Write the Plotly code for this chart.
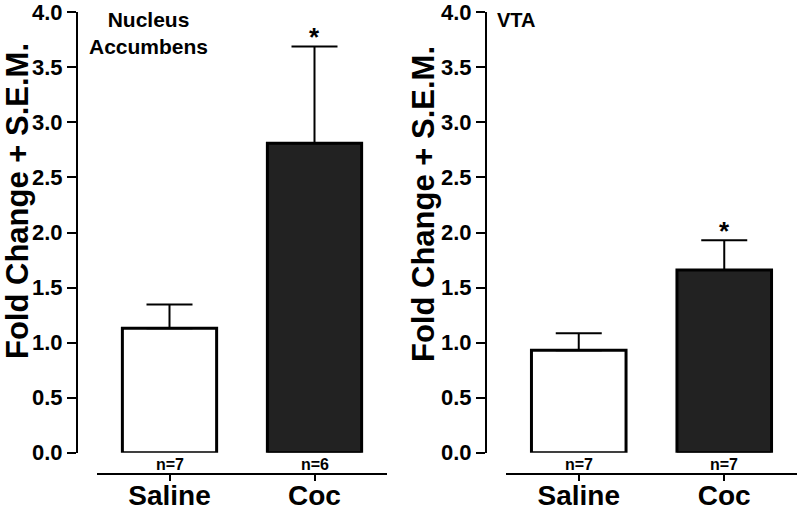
import plotly.graph_objects as go

categories = ["Saline", "Coc"]
nac_mean = [1.13, 2.81]
nac_sem = [0.215, 0.88]
nac_n = ["n=7", "n=6"]
vta_mean = [0.93, 1.66]
vta_sem = [0.155, 0.27]
vta_n = ["n=7", "n=7"]
bar_colors = ["#ffffff", "#222222"]
y_ticks = [0.0, 0.5, 1.0, 1.5, 2.0, 2.5, 3.0, 3.5, 4.0]
sig_marks = ["", "*"]
y_title = "Fold Change + S.E.M."

FONT = "Liberation Sans, Arial, Helvetica, sans-serif"
W, H = 800, 512

def px(x):
    return x / W

def py(y):
    return (H - y) / H

fig = go.Figure()

panels = [
    dict(mean=nac_mean, sem=nac_sem, n=nac_n, xa="x", ya="y"),
    dict(mean=vta_mean, sem=vta_sem, n=vta_n, xa="x2", ya="y2"),
]

for p in panels:
    fig.add_trace(go.Bar(
        x=categories, y=p["mean"], width=0.65,
        marker=dict(color=bar_colors, line=dict(color="black", width=3)),
        error_y=dict(type="data", array=p["sem"], arrayminus=[0, 0], symmetric=False,
                     color="black", thickness=2, width=23),
        xaxis=p["xa"], yaxis=p["ya"], showlegend=False, hoverinfo="skip",
    ))

ydom = [py(452.7), py(12.3)]
common_y = dict(range=[0, 4], tickvals=y_ticks, tickformat=".1f", showgrid=False, zeroline=False,
                showline=True, linewidth=2, linecolor="black", ticks="outside", ticklen=9,
                tickwidth=2, tickcolor="black", automargin=False,
                tickfont=dict(family=FONT, size=22, color="black", weight="bold"),
                domain=ydom, anchor="free")
common_x = dict(range=[-0.5, 1.5], showgrid=False, zeroline=False, showline=True, linewidth=2,
                linecolor="black", ticks="outside", ticklen=6, tickwidth=2, tickcolor="black",
                automargin=False, ticklabelstandoff=-10,
                tickfont=dict(family=FONT, size=28, color="black", weight="bold"),
                anchor="free", position=py(474))

fig.update_layout(
    width=W, height=H, margin=dict(l=0, r=0, t=0, b=0, pad=0, autoexpand=False),
    paper_bgcolor="white", plot_bgcolor="white", showlegend=False,
    bargap=0.35,
    xaxis=dict(domain=[px(97), px(387)], **common_x),
    yaxis=dict(position=px(77), **common_y),
    xaxis2=dict(domain=[px(506), px(797)], **common_x),
    yaxis2=dict(position=px(486), **common_y),
)

annotations = []
for p in panels:
    for cat, nt, m, s, sig in zip(categories, p["n"], p["mean"], p["sem"], sig_marks):
        annotations.append(dict(x=cat, y=py(464), xref=p["xa"], yref="paper", text=nt,
                                xanchor="center", yanchor="middle",
                                showarrow=False, font=dict(family=FONT, size=16, color="black", weight="bold")))
        if sig:
            annotations.append(dict(x=cat, y=m + s, xref=p["xa"], yref=p["ya"], text=sig,
                                    showarrow=False, yanchor="bottom", yshift=-8,
                                    font=dict(family=FONT, size=26, color="black", weight="bold")))

annotations.append(dict(x=px(148), y=py(33), xref="paper", yref="paper", text="Nucleus<br>Accumbens",
                        xanchor="center", yanchor="middle",
                        showarrow=False, font=dict(family=FONT, size=21, color="black", weight="bold")))
annotations.append(dict(x=px(495), y=py(20), xref="paper", yref="paper", text="VTA", xanchor="left",
                        yanchor="middle",
                        showarrow=False, font=dict(family=FONT, size=20, color="black", weight="bold")))
for xc, yc in [(17, 201), (423, 204)]:
    annotations.append(dict(x=px(xc), y=py(yc), xref="paper", yref="paper", text=y_title, textangle=-90,
                            xanchor="center", yanchor="middle",
                            showarrow=False, font=dict(family=FONT, size=31, color="black", weight="bold")))

fig.update_layout(annotations=annotations)
fig.write_html("out.html", config={"displayModeBar": False},
               post_script="document.body.style.margin='0px';document.body.style.overflow='hidden';")
